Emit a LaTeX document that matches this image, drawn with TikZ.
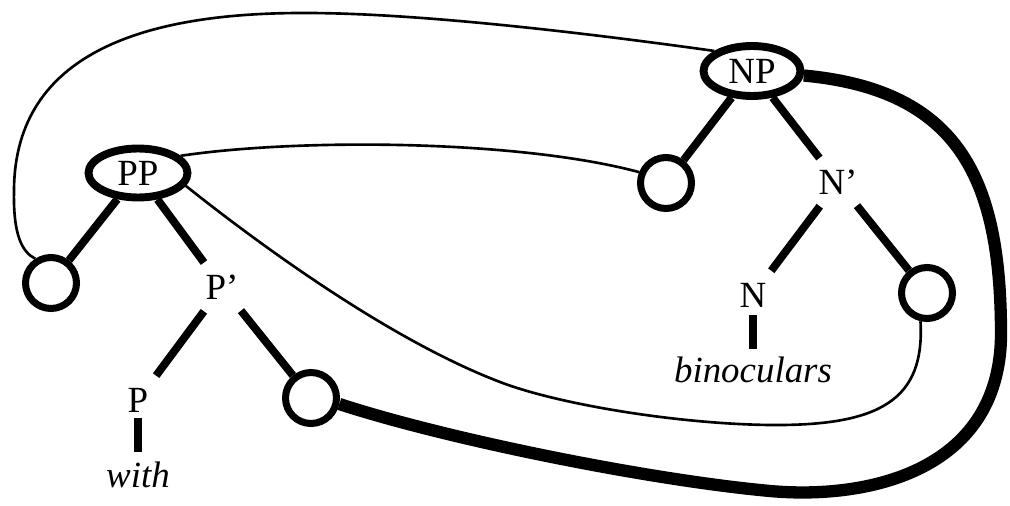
\documentclass[tikz,border=0pt]{standalone}
\usepackage{fontspec}
\setmainfont{Liberation Serif}
\usetikzlibrary{shapes.geometric,backgrounds}
\begin{document}
\begin{tikzpicture}[x=0.02cm,y=-0.02cm,
  lbl/.style={font=\fontsize{21}{24}\selectfont},
  phrase/.style={ellipse, draw, fill=white, line width=4.5pt, inner sep=0pt, lbl},
  gap/.style={circle, draw, fill=white, line width=4pt, inner sep=0pt, minimum size=1.02cm},
  cat/.style={circle, inner sep=0pt, minimum size=1.2cm, lbl},
  word/.style={inner sep=0pt, font=\fontsize{21}{24}\selectfont\itshape},
  branch/.style={line width=4.5pt},
  thin link/.style={line width=1.5pt},
  thick link/.style={line width=7pt}]
\useasboundingbox (0,0) rectangle (1010,506);

% phrase nodes
\node[phrase, minimum width=1.98cm, minimum height=0.98cm] (PP) at (138,173) {PP};
\node[phrase, minimum width=1.94cm, minimum height=1.0cm] (NP) at (752,71) {NP};

% empty positions
\node[gap] (g1) at (51,283) {};
\node[gap] (g2) at (666,183) {};
\node[gap] (g3) at (311,398) {};
\node[gap] (g4) at (927,293) {};

% category labels and words
\node[cat] (Pbar) at (222,287) {P’};
\node[cat] (Nbar) at (838,182) {N’};
\node[cat] (P) at (138,400) {P};
\node[cat] (N) at (753,295) {N};
\node[word] (with) at (138,475) {with};
\node[word] (bino) at (753,370) {binoculars};

\begin{scope}[on background layer]
  % tree branches
  \draw[branch] (PP) -- (g1);
  \draw[branch] (PP) -- (Pbar);
  \draw[branch] (Pbar) -- (P);
  \draw[branch] (Pbar) -- (g3);
  \draw[branch] (NP) -- (g2);
  \draw[branch] (NP) -- (Nbar);
  \draw[branch] (Nbar) -- (N);
  \draw[branch] (Nbar) -- (g4);
  \draw[branch, line width=5pt, shorten <=0.36cm, shorten >=0.2cm] (P.center) -- (with.north);
  \draw[branch, line width=5pt, shorten <=0.4cm, shorten >=0.15cm] (N.center) -- (bino.north);

  % links between phrases and positions
  \draw[thin link] (NP.152) .. controls (550,28) and (400,12.5) .. (300,13)
    .. controls (150,13.5) and (15,50) .. (14,190)
    .. controls (13,235) and (22,252) .. (g1.123);
  \draw[thin link] (PP.22) .. controls (300,138) and (520,140) .. (g2.158);
  \draw[thin link] (PP.-15) .. controls (260,245) and (390,340) .. (500,382)
    .. controls (560,405) and (680,424) .. (770,425)
    .. controls (880,426) and (925,400) .. (g4.-103);
  \draw[thick link] (g3.-12) .. controls (450,440) and (650,480) .. (770,491)
    .. controls (870,500) and (1003,470) .. (1001,330)
    .. controls (1000,180) and (960,90) .. (NP.-5);
\end{scope}
\end{tikzpicture}
\end{document}
